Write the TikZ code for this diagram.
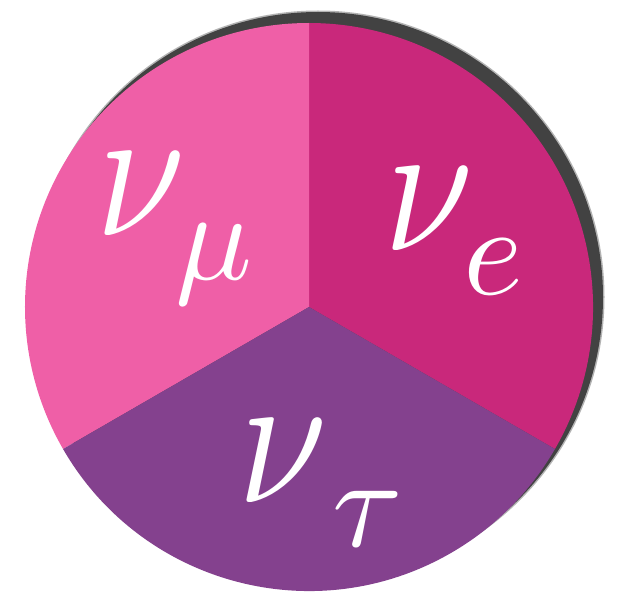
\documentclass[tikz,border=0pt]{standalone}
\usepackage{graphicx}
\definecolor{mupink}{HTML}{EF5FA7}
\definecolor{epink}{HTML}{C9287B}
\definecolor{taupurple}{HTML}{84418E}
\definecolor{shadowgrey}{HTML}{424242}
\newcommand{\flavnu}[1]{\scalebox{16}[19.2]{$\nu$}\kern-10pt\raisebox{-44pt}{\scalebox{12.8}{$#1$}}}

\begin{document}
\begin{tikzpicture}
[x=1pt,y=1pt,every node/.style={text=white, inner sep=0pt, anchor=base west}]
\def \radius {284}
\useasboundingbox (-309,-285) rectangle (309,307);
\coordinate (centre) at (0,0);
% drop shadow behind the disc, soft edge
\fill[shadowgrey, opacity=0.4] (9,10) circle ({\radius+2.5});
\fill[shadowgrey] (9,10) circle ({\radius+1});
\foreach \col/\from/\to in {epink/-30/90, mupink/90/210, taupurple/210/330}
{
  \fill[\col] (centre) -- (\from:\radius) arc (\from:\to:\radius) -- cycle;
}
\node (numu) at (-213,72) {\flavnu{\mu}};
\node (nue) at (75,57) {\flavnu{e}};
\node (nutau) at (-71,-195) {\flavnu{\kern1.2pt\tau}};
\end{tikzpicture}
\end{document}
